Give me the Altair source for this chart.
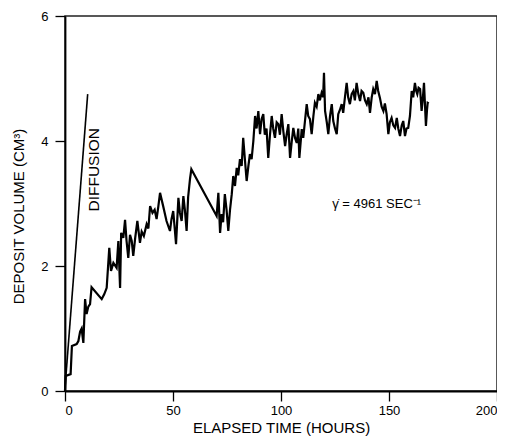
import altair as alt
import pandas as pd

hours = [0, 0.3, 2.6, 3.2, 5.4, 6.2, 7.0, 7.7, 8.5, 9.3, 10, 10.8, 11.6, 12.3, 17, 18.2, 19.3, 20.5, 21.3, 22.4,
         23.9, 24.7, 25.5, 26, 27.0, 27.8, 28.5, 29.3, 30.1, 30.9, 31.6, 32.5, 33.5, 34.7, 35.5, 36.5, 37.8, 38.6,
         39.4, 40.5, 41.5, 42.4, 43.2, 44, 45.5, 47, 48.6, 49.3, 50.1, 50.8, 51.4, 52.5, 53.2, 54, 54.8, 55.5,
         56.3, 57.0, 57.9, 58.5, 70.2, 71, 71.8, 72.5, 73.2, 74, 74.8, 75.6, 76.4, 77.2, 77.9, 78.7, 79.5, 80.2,
         81, 81.8, 82.5, 83.3, 84.1, 84.9, 85.6, 86.4, 87.2, 88, 88.7, 89.5, 90.3, 91.0, 91.8, 92.5, 93.3, 94.1,
         94.9, 95.7, 96.4, 97.2, 98, 98.8, 99.5, 100.3, 101.1, 101.9, 102.6, 103.4, 104.2, 105, 105.7, 106.5,
         107.3, 108, 108.5, 109.6, 110.3, 111.1, 111.9, 112.6, 113.4, 114.2, 115, 115.7, 116.5, 117.3, 118,
         118.8, 119.5, 119.9, 120.4, 121.2, 121.9, 122.7, 123.5, 124.2, 125, 125.8, 126.5, 127.3, 128.1, 128.8,
         129.6, 130.4, 131.1, 131.9, 132.7, 133.5, 134.2, 135, 135.8, 136.6, 137.3, 138.1, 138.9, 139.7, 140.5,
         141.2, 142, 142.7, 143.5, 144.3, 145, 145.8, 146.6, 147.4, 148.1, 148.9, 149.7, 150.4, 151.2, 152,
         152.8, 153.6, 154.3, 155.1, 155.9, 156.6, 157.4, 158.1, 158.9, 159.7, 160.5, 161.2, 162, 162.6, 163.1,
         163.7, 164.4, 165.1, 165.7, 166.2, 167.1, 167.6, 167.9, 168.4]
volume = [0, 0.24, 0.27, 0.72, 0.75, 0.8, 0.95, 1.0, 0.77, 1.47, 1.23, 1.35, 1.39, 1.66, 1.47, 1.55, 1.65, 2.29, 1.92, 2.05,
          1.97, 2.4, 1.65, 2.53, 2.45, 2.74, 2.4, 2.13, 2.5, 2.4, 2.16, 2.45, 2.72, 2.37, 2.55, 2.48, 2.67, 2.6,
          2.96, 2.85, 2.9, 2.75, 2.95, 3.17, 2.95, 2.72, 2.56, 2.75, 2.88, 2.6, 2.35, 3.09, 2.85, 2.72, 3.12, 2.9,
          2.56, 3.1, 3.4, 3.55, 2.8, 3.17, 2.53, 2.83, 2.7, 3.15, 2.9, 2.56, 2.9, 3.15, 3.44, 3.28, 3.57, 3.45,
          3.71, 3.6, 4.05, 3.7, 3.36, 3.6, 3.79, 3.71, 4.0, 4.4, 4.2, 4.48, 4.11, 4.35, 4.43, 4.1, 4.2, 3.73,
          4.1, 4.4, 4.2, 4.05, 4.3, 4.27, 4.1, 4.43, 4.15, 3.92, 4.1, 4.27, 3.73, 4.0, 4.21, 4.05,
          3.97, 4.2, 3.73, 4.19, 4.05, 4.32, 4.59, 4.4, 4.35, 4.11, 4.4, 4.61, 4.55, 4.75, 4.65,
          4.77, 4.7, 5.09, 4.48, 4.3, 4.11, 4.4, 4.59, 4.32, 4.2, 4.11, 4.43, 4.5, 4.59, 4.45,
          4.7, 4.93, 4.7, 4.59, 4.75, 4.8, 4.65, 4.93, 4.75, 4.64, 4.8, 4.77, 4.65, 4.59, 4.7,
          4.45, 4.7, 4.83, 4.75, 4.96, 4.8, 4.69, 4.55, 4.48, 4.6, 4.43, 4.11, 4.3, 4.37, 4.25,
          4.21, 4.37, 4.2, 4.08, 4.25, 4.32, 4.08, 4.2, 4.21, 4.4, 4.8, 4.7, 4.93, 4.8, 4.75,
          4.85, 4.83, 4.48, 4.7, 4.93, 4.24, 4.5, 4.61, 4.6]

diff_hours = [0, 10.5]
diff_volume = [0.05, 4.75]

x_ticks = [0, 50, 100, 150, 200]
y_ticks = [0, 2, 4, 6]

FONT = "Liberation Sans"

df = pd.DataFrame({"h": hours, "v": volume})
dd = pd.DataFrame({"h": diff_hours, "v": diff_volume})

xs = alt.Scale(domain=[0, 200], nice=False)
ys = alt.Scale(domain=[0, 6], nice=False)

xaxis = alt.Axis(values=x_ticks, format="d", title="ELAPSED TIME (HOURS)", grid=False, tickSize=10,
                 labelPadding=3, titlePadding=3, labelFlush=True)
yaxis = alt.Axis(values=y_ticks, format="d", title="DEPOSIT VOLUME (CM³)", grid=False, tickSize=10,
                 labelPadding=7, titlePadding=14, titleY=200, labelFlush=False, labelOverlap=False)

main = alt.Chart(df).mark_line(color="black", strokeWidth=2.2, strokeJoin="miter").encode(
    x=alt.X("h:Q", scale=xs, axis=xaxis),
    y=alt.Y("v:Q", scale=ys, axis=yaxis),
)
diff = alt.Chart(dd).mark_line(color="black", strokeWidth=1.6).encode(
    x=alt.X("h:Q", scale=xs),
    y=alt.Y("v:Q", scale=ys),
)

labels = pd.DataFrame({"h": [13.4], "v": [3.54], "t": ["DIFFUSION"]})
lab = alt.Chart(labels).mark_text(angle=270, font=FONT, fontSize=15.5, color="black").encode(
    x=alt.X("h:Q", scale=xs), y=alt.Y("v:Q", scale=ys), text="t:N")

ann = pd.DataFrame({"h": [144.3], "v": [2.99], "t": ["γ̇ = 4961 SEC⁻¹"]})
annt = alt.Chart(ann).mark_text(font=FONT, fontSize=13, color="black").encode(
    x=alt.X("h:Q", scale=xs), y=alt.Y("v:Q", scale=ys), text="t:N")

chart = alt.layer(main, diff, lab, annt).properties(
    width=432, height=375,
    autosize=alt.AutoSizeParams(type="none"),
    padding={"left": 57, "top": 8, "right": 0, "bottom": 46},
).configure_view(stroke="#222222", strokeWidth=1.5).configure_axis(
    domainColor="black", tickColor="black", labelColor="black", titleColor="black",
    labelFont=FONT, titleFont=FONT, labelFontSize=13, titleFontSize=15,
    titleFontWeight="normal", domainWidth=1.8, tickWidth=1.3,
)

chart.save("out.html", embed_options={"renderer": "svg", "actions": False})
